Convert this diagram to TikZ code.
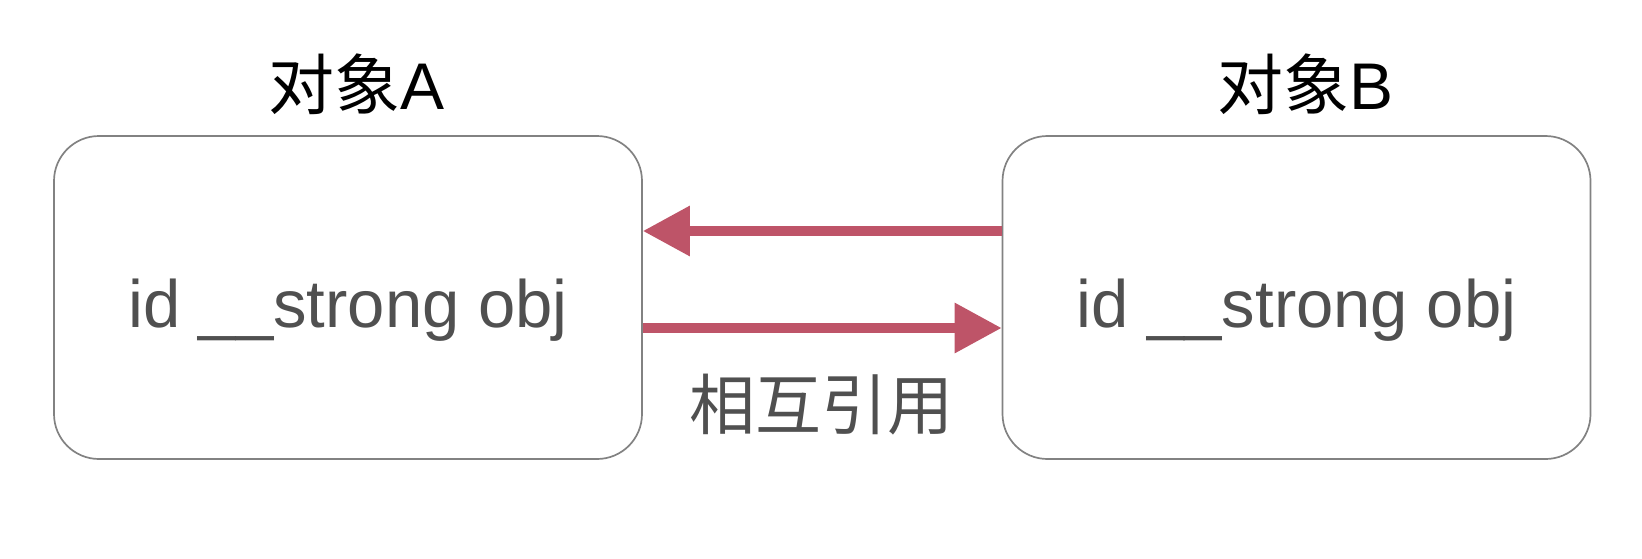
\documentclass[tikz,border=0pt]{standalone}
\usepackage{fontspec}
\setmainfont{Liberation Sans}
\newfontfamily\cjk{Noto Sans CJK SC}
\usetikzlibrary{arrows.meta,positioning,calc}
\definecolor{refRed}{RGB}{190,84,104}
\definecolor{boxGray}{RGB}{130,130,130}
\definecolor{txtGray}{RGB}{80,80,80}
\tikzset{
  objbox/.style={draw=boxGray, line width=0.85pt, fill=white, rounded corners=22.5pt,
    minimum width=294pt, minimum height=161.5pt, inner sep=0pt},
  bodytxt/.style={txtGray, font=\fontsize{33.5}{40}\selectfont, inner sep=0pt},
  titletxt/.style={black, font=\fontsize{33}{40}\selectfont, inner sep=0pt},
  refln/.style={-{Triangle[length=23.5pt,width=24pt]}, line width=4.75pt, refRed},
}

\begin{document}
\begin{tikzpicture}[x=0.5pt, y=-0.5pt]
  \useasboundingbox (0,0) rectangle (1642,558);
  % the two objects
  \node[objbox] (a) at (348,297.5) {};
  \node[objbox] (b) at (1296.5,297.5) {};
  \node[bodytxt] (atxt) at ($(a.center)+(0,13)$) {id \_\_strong obj};
  \node[bodytxt] (btxt) at ($(b.center)+(0,13)$) {id \_\_strong obj};
  \node[titletxt] (atitle) at (357,84) {{\cjk 对象}A};
  \node[titletxt] (btitle) at (1305,84) {{\cjk 对象}B};
  % references in both directions
  \draw[refln] ($(b.west)+(0,-66.5)$) -- ($(a.east)+(0,-66.5)$);
  \draw[refln] ($(a.east)+(0,30.5)$) -- ($(b.west)+(0,30.5)$);
  \node[titletxt, txtGray] (mutual) at (821,405) {\cjk 相互引用};
\end{tikzpicture}
\end{document}
